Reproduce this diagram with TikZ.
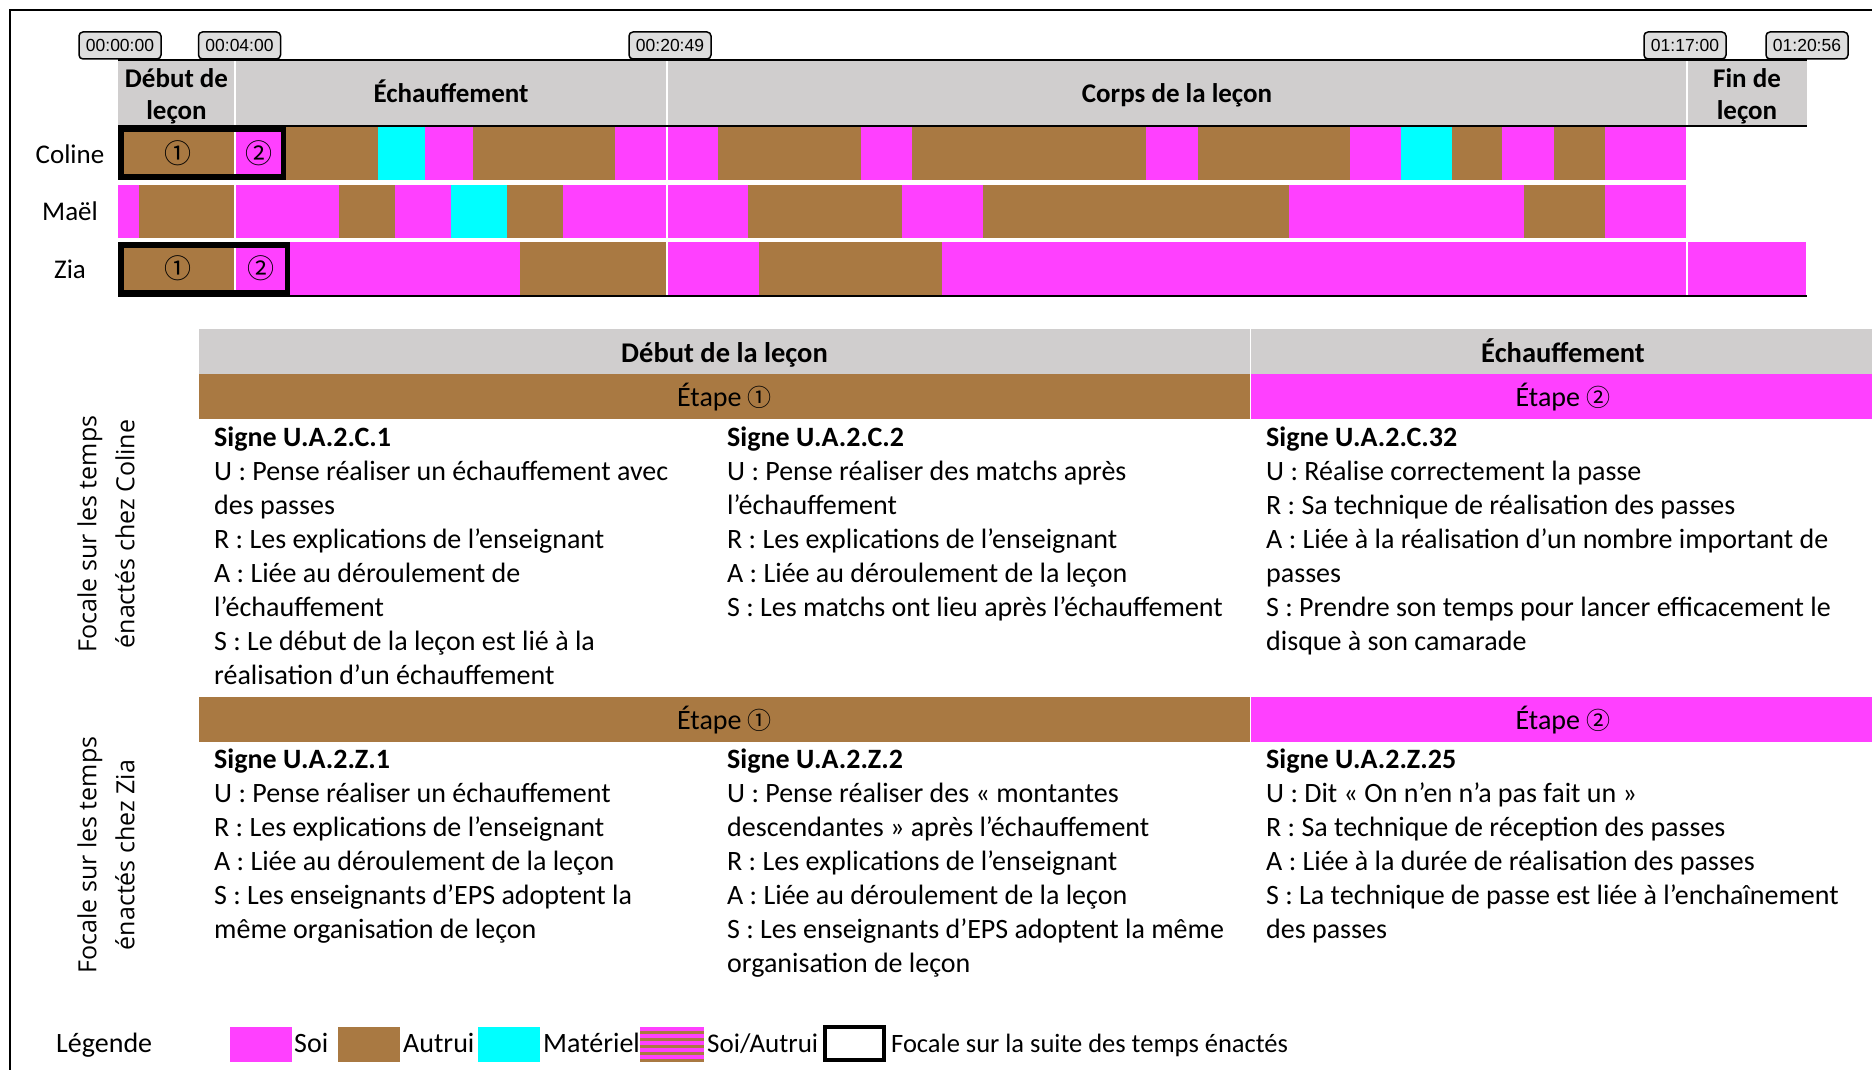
\documentclass[tikz,border=0pt]{standalone}
\usepackage{fontspec}
\setmainfont{Carlito}
\newfontfamily\osans{Open Sans}
\newfontfamily\lsans{Liberation Sans}
\newfontfamily\cjk{Noto Sans CJK JP}
\definecolor{soi}{HTML}{FF40FF}
\definecolor{aut}{HTML}{A97942}
\definecolor{mat}{HTML}{00FFFF}
\definecolor{hdr}{HTML}{D0CECE}
\definecolor{tsf}{HTML}{DEDEDE}
\tikzset{
  tstamp/.style={draw=black, line width=1.5pt, fill=tsf, rounded corners=4pt, minimum width=82pt, minimum height=27pt, inner sep=0pt, font=\lsans\fontsize{17.5}{20}\selectfont},
  phase/.style={anchor=base, inner sep=0pt, font=\bfseries\fontsize{27}{32.5}\selectfont},
  who/.style={anchor=base, inner sep=0pt, font=\fontsize{27}{32}\selectfont},
  cell/.style={anchor=base west, inner sep=0pt, font=\fontsize{28}{34}\selectfont},
  hb/.style={anchor=base, inner sep=0pt, font=\bfseries\fontsize{28.5}{34}\selectfont},
  band/.style={anchor=base, inner sep=0pt, font=\fontsize{28}{34}\selectfont},
  vlab/.style={rotate=90, align=center, inner sep=0pt, font=\osans\fontsize{25}{38}\selectfont},
  legtxt/.style={anchor=base west, inner sep=0pt, font=\fontsize{28}{34}\selectfont},
  digit/.style={inner sep=0pt, font=\cjk\fontsize{27}{30}\selectfont}
}
\begin{document}
\begin{tikzpicture}[x=1pt,y=-1pt]
\useasboundingbox (0,0) rectangle (1872,1070);
\fill[white] (0,0) rectangle (1872,1070);
% outer frame
\draw[line width=2.5pt] (10,1070) -- (10,10) -- (1872,10);
% timestamps
\node[tstamp] (t0) at (120,45.5) {00:00:00};
\node[tstamp] (t1) at (239.5,45.5) {00:04:00};
\node[tstamp] (t2) at (670,45.5) {00:20:49};
\node[tstamp] (t3) at (1685,45.5) {01:17:00};
\node[tstamp] (t4) at (1807,45.5) {01:20:56};
% header band
\fill[hdr] (118,61) rectangle (1807,126);
% Coline row
\foreach \a/\b/\c in {118/235/aut,235/286/soi,286/378/aut,378/425/mat,425/473/soi,473/615/aut,615/718/soi,718/861/aut,861/912/soi,912/1146/aut,1146/1198/soi,1198/1350/aut,1350/1401/soi,1401/1452/mat,1452/1502/aut,1502/1554/soi,1554/1605/aut,1605/1687/soi}
  \fill[\c] (\a,127) rectangle (\b,180);
% Mael row
\foreach \a/\b/\c in {118/139/soi,139/235/aut,235/339/soi,339/395/aut,395/451/soi,451/507/mat,507/563/aut,563/748/soi,748/902/aut,902/983/soi,983/1289/aut,1289/1524/soi,1524/1605/aut,1605/1687/soi}
  \fill[\c] (\a,185) rectangle (\b,238);
% Zia row
\foreach \a/\b/\c in {118/235/aut,235/520/soi,520/667/aut,667/759/soi,759/942/aut,942/1806/soi}
  \fill[\c] (\a,242) rectangle (\b,295);
% white phase dividers
\foreach \x in {235,667,1687}
  \draw[white, line width=1.5pt] (\x,61) -- (\x,295);
% black rules
\draw[line width=2pt] (118,60) -- (1807,60);
\draw[line width=2pt] (118,126) -- (1807,126);
\draw[line width=2pt] (118,296) -- (1807,296);
% focus boxes
\draw[line width=5.5pt] (120.75,129.75) rectangle (283.25,177.25);
\draw[line width=5.5pt] (120.75,244.75) rectangle (287.25,292.25);
\node[digit] (c1) at (178,153.5) {①};
\node[digit] (c2) at (259,153.5) {②};
\node[digit] (z1) at (178,268.5) {①};
\node[digit] (z2) at (261,268.5) {②};
% phase titles
\node[phase] (p1) at (176.5,87.5) {\begin{tabular}[t]{@{}c@{}}Début de\\leçon\end{tabular}};
\node[phase] (p2) at (451,103) {Échauffement};
\node[phase] (p3) at (1177,103) {Corps de la leçon};
\node[phase] (p4) at (1747,87.5) {\begin{tabular}[t]{@{}c@{}}Fin de\\leçon\end{tabular}};
% row labels
\node[who] (nC) at (70,164) {Coline};
\node[who] (nM) at (70,220.5) {Maël};
\node[who] (nZ) at (70,278.5) {Zia};
% lower table bands
\fill[hdr] (199,329) rectangle (1249.5,374);
\fill[hdr] (1250.5,329) rectangle (1872,374);
\fill[aut] (199,374) rectangle (1249.5,419);
\fill[soi] (1250.5,374) rectangle (1872,419);
\fill[aut] (199,697) rectangle (1249.5,742);
\fill[soi] (1250.5,697) rectangle (1872,742);
\node[hb] (h1) at (724.5,362) {Début de la leçon};
\node[hb] (h2) at (1563,362) {Échauffement};
\node[band] (e1) at (724.5,406.5) {Étape {\cjk\fontsize{24}{28}\selectfont ①}};
\node[band] (e2) at (1563,406.5) {Étape {\cjk\fontsize{24}{28}\selectfont ②}};
\node[band] (e3) at (724.5,729.5) {Étape {\cjk\fontsize{24}{28}\selectfont ①}};
\node[band] (e4) at (1563,729.5) {Étape {\cjk\fontsize{24}{28}\selectfont ②}};
% vertical labels
\node[vlab] (v1) at (106,534) {Focale sur les temps\\énactés chez Coline};
\node[vlab] (v2) at (106,855) {Focale sur les temps\\énactés chez Zia};
% Coline cells
\node[cell] (sc1) at (214,446) {\begin{tabular}[t]{@{}l@{}}\textbf{Signe U.A.2.C.1}\\
U : Pense réaliser un échauffement avec\\
des passes\\
R : Les explications de l’enseignant\\
A : Liée au déroulement de\\
l’échauffement\\
S : Le début de la leçon est lié à la\\
réalisation d’un échauffement\end{tabular}};
\node[cell] (sc2) at (727,446) {\begin{tabular}[t]{@{}l@{}}\textbf{Signe U.A.2.C.2}\\
U : Pense réaliser des matchs après\\
l’échauffement\\
R : Les explications de l’enseignant\\
A : Liée au déroulement de la leçon\\
S : Les matchs ont lieu après l’échauffement\end{tabular}};
\node[cell] (sc3) at (1266,446) {\begin{tabular}[t]{@{}l@{}}\textbf{Signe U.A.2.C.32}\\
U : Réalise correctement la passe\\
R : Sa technique de réalisation des passes\\
A : Liée à la réalisation d’un nombre important de\\
passes\\
S : Prendre son temps pour lancer efficacement le\\
disque à son camarade\end{tabular}};
% Zia cells
\node[cell] (sz1) at (214,768.5) {\begin{tabular}[t]{@{}l@{}}\textbf{Signe U.A.2.Z.1}\\
U : Pense réaliser un échauffement\\
R : Les explications de l’enseignant\\
A : Liée au déroulement de la leçon\\
S : Les enseignants d’EPS adoptent la\\
même organisation de leçon\end{tabular}};
\node[cell] (sz2) at (727,768.5) {\begin{tabular}[t]{@{}l@{}}\textbf{Signe U.A.2.Z.2}\\
U : Pense réaliser des « montantes\\
descendantes » après l’échauffement\\
R : Les explications de l’enseignant\\
A : Liée au déroulement de la leçon\\
S : Les enseignants d’EPS adoptent la même\\
organisation de leçon\end{tabular}};
\node[cell] (sz3) at (1266,768.5) {\begin{tabular}[t]{@{}l@{}}\textbf{Signe U.A.2.Z.25}\\
U : Dit « On n’en n’a pas fait un »\\
R : Sa technique de réception des passes\\
A : Liée à la durée de réalisation des passes\\
S : La technique de passe est liée à l’enchaînement\\
des passes\end{tabular}};
% legend
\node[legtxt] (leg) at (56,1052) {Légende};
\fill[soi] (230,1027) rectangle (292,1062);
\node[legtxt] (l1) at (294,1052) {Soi};
\fill[aut] (338,1027) rectangle (400,1062);
\node[legtxt] (l2) at (403,1052) {Autrui};
\fill[mat] (478,1027) rectangle (540,1062);
\node[legtxt] (l3) at (543,1052) {Matériel};
\foreach \i in {0,...,9} {
  \pgfmathsetmacro\yy{1027+3.5*\i}
  \pgfmathtruncatemacro\pp{mod(\i,2)}
  \ifnum\pp=0 \fill[soi] (640,\yy) rectangle (704,\yy+3.5); \else \fill[aut] (640,\yy) rectangle (704,\yy+3.5); \fi
}
\node[legtxt, font=\fontsize{27}{34}\selectfont] (l4) at (707,1052) {Soi/Autrui};
\draw[line width=4pt] (825,1027) rectangle (884,1060);
\node[legtxt, font=\fontsize{26.5}{34}\selectfont] (l5) at (891,1052) {Focale sur la suite des temps énactés};
\end{tikzpicture}
\end{document}
